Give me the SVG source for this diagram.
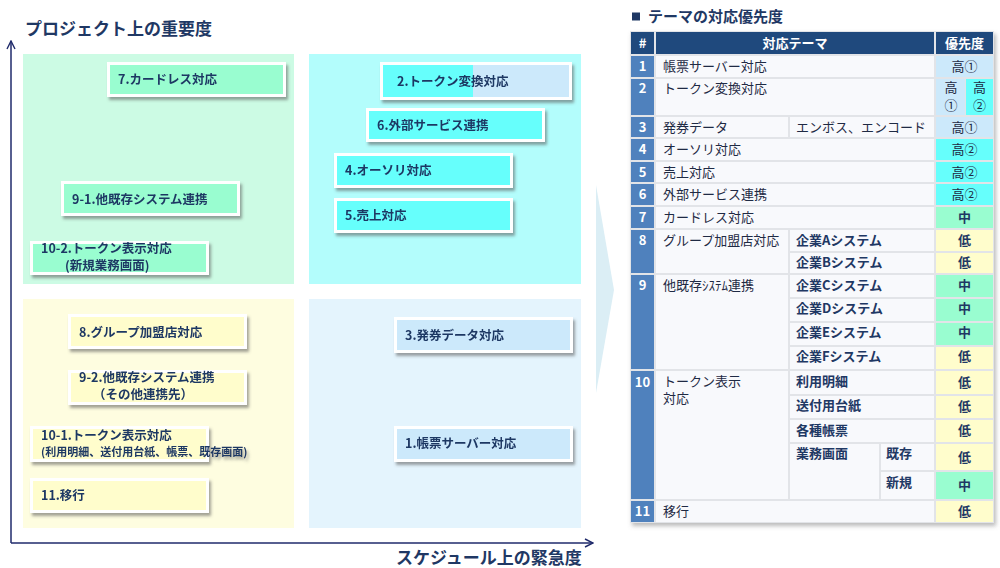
<svg xmlns="http://www.w3.org/2000/svg" width="1000" height="568" viewBox="0 0 1000 568">
<defs>
<filter id="sh" x="-10%" y="-20%" width="130%" height="160%">
<feDropShadow dx="2" dy="3" stdDeviation="1.6" flood-color="#555" flood-opacity="0.55"/>
</filter>
<filter id="tsh" x="-5%" y="-5%" width="110%" height="110%">
<feDropShadow dx="2" dy="3" stdDeviation="2" flood-color="#777" flood-opacity="0.5"/>
</filter>
<marker id="ah" viewBox="0 0 10 10" refX="9" refY="5" markerWidth="10" markerHeight="10" markerUnits="userSpaceOnUse" orient="auto">
<path d="M1,1 L9,5 L1,9" fill="none" stroke="#1f2a6b" stroke-width="1.4"/>
</marker>
<style>
text{font-family:"Noto Sans CJK JP","Noto Sans",sans-serif;}
.ax{font-size:17px;font-weight:700;fill:#1f3864;}
.bt{font-size:12.5px;font-weight:700;fill:#1f3864;}
.box{stroke:#fff;stroke-width:3;}
.g{fill:#99fdd0;} .c{fill:#66fffc;} .y{fill:#fffdcc;} .b{fill:#cce9fb;}
.hd{fill:#1f497d;} .nm{fill:#4f81bd;} .tc{fill:#f8f9fc;}
.ht{font-size:13px;font-weight:700;fill:#fff;text-anchor:middle;}
.nt{font-size:13px;font-weight:700;fill:#fff;text-anchor:middle;}
.tt{font-size:13px;fill:#1f2a44;}
.st{font-size:13px;font-weight:700;fill:#1f3864;}
.pt{font-size:13px;fill:#1f2a44;text-anchor:middle;}
.pb{font-size:13px;font-weight:700;fill:#1f3864;text-anchor:middle;}
</style>
</defs>
<rect width="1000" height="568" fill="#fff"/>

<g id="quadrants">
<rect x="23" y="54" width="271" height="230" fill="#ccfbe4"/>
<rect x="309" y="54" width="272" height="230" fill="#b3fdfc"/>
<rect x="23" y="299" width="271" height="229" fill="#fefde0"/>
<rect x="309" y="299" width="272" height="229" fill="#e4f4fd"/>
</g>

<g id="connectors">
<line x1="11" y1="543" x2="11" y2="41" stroke="#1f2a6b" stroke-width="1.5" marker-end="url(#ah)"/>
<line x1="11" y1="543" x2="593" y2="543" stroke="#1f2a6b" stroke-width="1.5" marker-end="url(#ah)"/>
<polygon points="596,185 614,290 596,393" fill="#dbeef5"/>
</g>

<g id="axis-labels">
<text class="ax" x="25" y="35">プロジェクト上の重要度</text>
<text class="ax" x="396" y="564">スケジュール上の緊急度</text>
</g>

<g id="n7" filter="url(#sh)">
<rect class="box g" x="108.5" y="63.5" width="176" height="32"/>
<text class="bt" x="118" y="84">7.カードレス対応</text>
</g>
<g id="n9-1" filter="url(#sh)">
<rect class="box g" x="62.5" y="182.5" width="176" height="32"/>
<text class="bt" x="72" y="204">9-1.他既存システム連携</text>
</g>
<g id="n10-2" filter="url(#sh)">
<rect class="box g" x="31.5" y="242.5" width="176" height="31"/>
<text class="bt" x="41" y="253">10-2.トークン表示対応</text>
<text class="bt" x="65" y="270">(新規業務画面)</text>
</g>
<g id="n2" filter="url(#sh)">
<rect class="box b" x="381.5" y="63.5" width="189" height="35"/>
<rect class="c" x="383" y="65" width="90" height="32"/>
<text class="bt" x="397" y="86">2.トークン変換対応</text>
</g>
<g id="n6" filter="url(#sh)">
<rect class="box c" x="367.5" y="109.5" width="176" height="31"/>
<text class="bt" x="377" y="130">6.外部サービス連携</text>
</g>
<g id="n4" filter="url(#sh)">
<rect class="box c" x="335.5" y="154.5" width="176" height="32"/>
<text class="bt" x="345" y="175">4.オーソリ対応</text>
</g>
<g id="n5" filter="url(#sh)">
<rect class="box c" x="335.5" y="199.5" width="176" height="32"/>
<text class="bt" x="345" y="220">5.売上対応</text>
</g>
<g id="n8" filter="url(#sh)">
<rect class="box y" x="69.5" y="315.5" width="176" height="32"/>
<text class="bt" x="79" y="337">8.グループ加盟店対応</text>
</g>
<g id="n9-2" filter="url(#sh)">
<rect class="box y" x="69.5" y="371.5" width="176" height="32"/>
<text class="bt" x="79" y="382">9-2.他既存システム連携</text>
<text class="bt" x="93" y="399">（その他連携先）</text>
</g>
<g id="n10-1" filter="url(#sh)">
<rect class="box y" x="31.5" y="427.5" width="176" height="33"/>
<text class="bt" x="41" y="440">10-1.トークン表示対応</text>
<text class="bt" x="41" y="456" style="font-size:11px">(利用明細、送付用台紙、帳票、既存画面)</text>
</g>
<g id="n11" filter="url(#sh)">
<rect class="box y" x="31.5" y="479.5" width="176" height="32"/>
<text class="bt" x="41" y="500">11.移行</text>
</g>
<g id="n3" filter="url(#sh)">
<rect class="box b" x="395.5" y="318.5" width="176" height="33"/>
<text class="bt" x="405" y="340">3.発券データ対応</text>
</g>
<g id="n1" filter="url(#sh)">
<rect class="box b" x="395.5" y="427.5" width="176" height="33"/>
<text class="bt" x="405" y="448">1.帳票サーバー対応</text>
</g>

<g id="table">
<rect x="632" y="12.5" width="8" height="8" fill="#1f3864"/>
<text x="648" y="22" style="font-size:15px;font-weight:700;fill:#1f3864">テーマの対応優先度</text>
<rect x="630" y="31" width="364" height="492" fill="#e2e4e8" filter="url(#tsh)"/>
<rect class="hd" x="631" y="32" width="23" height="22"/>
<rect class="hd" x="656" y="32" width="278" height="22"/>
<rect class="hd" x="936" y="32" width="57" height="22"/>
<text class="ht" x="642.5" y="48">#</text>
<text class="ht" x="795" y="48">対応テーマ</text>
<text class="ht" x="964.5" y="48">優先度</text>
<rect class="nm" x="631" y="56" width="23" height="21"/>
<rect class="nm" x="631" y="79" width="23" height="36"/>
<rect class="nm" x="631" y="117" width="23" height="20"/>
<rect class="nm" x="631" y="139" width="23" height="21"/>
<rect class="nm" x="631" y="162" width="23" height="20"/>
<rect class="nm" x="631" y="184" width="23" height="21"/>
<rect class="nm" x="631" y="207" width="23" height="21"/>
<rect class="nm" x="631" y="230" width="23" height="43"/>
<rect class="nm" x="631" y="275" width="23" height="94"/>
<rect class="nm" x="631" y="371" width="23" height="128"/>
<rect class="nm" x="631" y="501" width="23" height="21"/>
<text class="nt" x="642.5" y="71">1</text>
<text class="nt" x="642.5" y="93">2</text>
<text class="nt" x="642.5" y="132">3</text>
<text class="nt" x="642.5" y="154">4</text>
<text class="nt" x="642.5" y="177">5</text>
<text class="nt" x="642.5" y="199">6</text>
<text class="nt" x="642.5" y="222">7</text>
<text class="nt" x="642.5" y="245">8</text>
<text class="nt" x="642.5" y="290">9</text>
<text class="nt" x="642.5" y="387">10</text>
<text class="nt" x="642.5" y="516">11</text>
<rect class="tc" x="656" y="56" width="278" height="21"/>
<rect class="tc" x="656" y="79" width="278" height="36"/>
<rect class="tc" x="656" y="117" width="132" height="20"/>
<rect class="tc" x="790" y="117" width="144" height="20"/>
<rect class="tc" x="656" y="139" width="278" height="21"/>
<rect class="tc" x="656" y="162" width="278" height="20"/>
<rect class="tc" x="656" y="184" width="278" height="21"/>
<rect class="tc" x="656" y="207" width="278" height="21"/>
<rect class="tc" x="656" y="230" width="132" height="43"/>
<rect class="tc" x="790" y="230" width="144" height="21"/>
<rect class="tc" x="790" y="253" width="144" height="20"/>
<rect class="tc" x="656" y="275" width="132" height="94"/>
<rect class="tc" x="790" y="275" width="144" height="22"/>
<rect class="tc" x="790" y="299" width="144" height="22"/>
<rect class="tc" x="790" y="323" width="144" height="22"/>
<rect class="tc" x="790" y="347" width="144" height="22"/>
<rect class="tc" x="656" y="371" width="132" height="128"/>
<rect class="tc" x="790" y="371" width="144" height="23"/>
<rect class="tc" x="790" y="396" width="144" height="22"/>
<rect class="tc" x="790" y="420" width="144" height="22"/>
<rect class="tc" x="790" y="444" width="89" height="55"/>
<rect class="tc" x="881" y="444" width="53" height="26"/>
<rect class="tc" x="881" y="472" width="53" height="27"/>
<rect class="tc" x="656" y="501" width="278" height="21"/>
<text class="tt" x="663" y="71">帳票サーバー対応</text>
<text class="tt" x="663" y="93">トークン変換対応</text>
<text class="tt" x="663" y="132">発券データ</text>
<text class="tt" x="796" y="132">エンボス、エンコード</text>
<text class="tt" x="663" y="154">オーソリ対応</text>
<text class="tt" x="663" y="177">売上対応</text>
<text class="tt" x="663" y="199">外部サービス連携</text>
<text class="tt" x="663" y="222">カードレス対応</text>
<text class="tt" x="663" y="245">グループ加盟店対応</text>
<text class="tt" x="663" y="290">他既存ｼｽﾃﾑ連携</text>
<text class="tt" x="663" y="386">トークン表示</text>
<text class="tt" x="663" y="403">対応</text>
<text class="tt" x="663" y="516">移行</text>
<text class="st" x="796" y="245">企業Aシステム</text>
<text class="st" x="796" y="267">企業Bシステム</text>
<text class="st" x="796" y="290">企業Cシステム</text>
<text class="st" x="796" y="313">企業Dシステム</text>
<text class="st" x="796" y="337">企業Eシステム</text>
<text class="st" x="796" y="361">企業Fシステム</text>
<text class="st" x="796" y="386">利用明細</text>
<text class="st" x="796" y="410">送付用台紙</text>
<text class="st" x="796" y="435">各種帳票</text>
<text class="st" x="796" y="458">業務画面</text>
<text class="st" x="886" y="458">既存</text>
<text class="st" x="886" y="487">新規</text>
<rect class="b" x="936" y="56" width="57" height="21"/>
<rect class="b" x="936" y="79" width="29" height="36"/>
<rect class="c" x="966" y="79" width="27" height="36"/>
<rect class="b" x="936" y="117" width="57" height="20"/>
<rect class="c" x="936" y="139" width="57" height="21"/>
<rect class="c" x="936" y="162" width="57" height="20"/>
<rect class="c" x="936" y="184" width="57" height="21"/>
<rect class="g" x="936" y="207" width="57" height="21"/>
<rect class="y" x="936" y="230" width="57" height="21"/>
<rect class="y" x="936" y="253" width="57" height="20"/>
<rect class="g" x="936" y="275" width="57" height="22"/>
<rect class="g" x="936" y="299" width="57" height="22"/>
<rect class="g" x="936" y="323" width="57" height="22"/>
<rect class="y" x="936" y="347" width="57" height="22"/>
<rect class="y" x="936" y="371" width="57" height="23"/>
<rect class="y" x="936" y="396" width="57" height="22"/>
<rect class="y" x="936" y="420" width="57" height="22"/>
<rect class="y" x="936" y="444" width="57" height="26"/>
<rect class="g" x="936" y="472" width="57" height="27"/>
<rect class="y" x="936" y="501" width="57" height="21"/>
<text class="pt" x="964.5" y="71">高①</text>
<text class="pt" x="951" y="92">高</text>
<text class="pt" x="951" y="110">①</text>
<text class="pt" x="979.5" y="92">高</text>
<text class="pt" x="979.5" y="110">②</text>
<text class="pt" x="964.5" y="132">高①</text>
<text class="pt" x="964.5" y="154">高②</text>
<text class="pt" x="964.5" y="177">高②</text>
<text class="pt" x="964.5" y="199">高②</text>
<text class="pb" x="964.5" y="222">中</text>
<text class="pb" x="964.5" y="245">低</text>
<text class="pb" x="964.5" y="267">低</text>
<text class="pb" x="964.5" y="290">中</text>
<text class="pb" x="964.5" y="313">中</text>
<text class="pb" x="964.5" y="337">中</text>
<text class="pb" x="964.5" y="361">低</text>
<text class="pb" x="964.5" y="387">低</text>
<text class="pb" x="964.5" y="411">低</text>
<text class="pb" x="964.5" y="435">低</text>
<text class="pb" x="964.5" y="462">低</text>
<text class="pb" x="964.5" y="490">中</text>
<text class="pb" x="964.5" y="516">低</text>
</g>
</svg>
